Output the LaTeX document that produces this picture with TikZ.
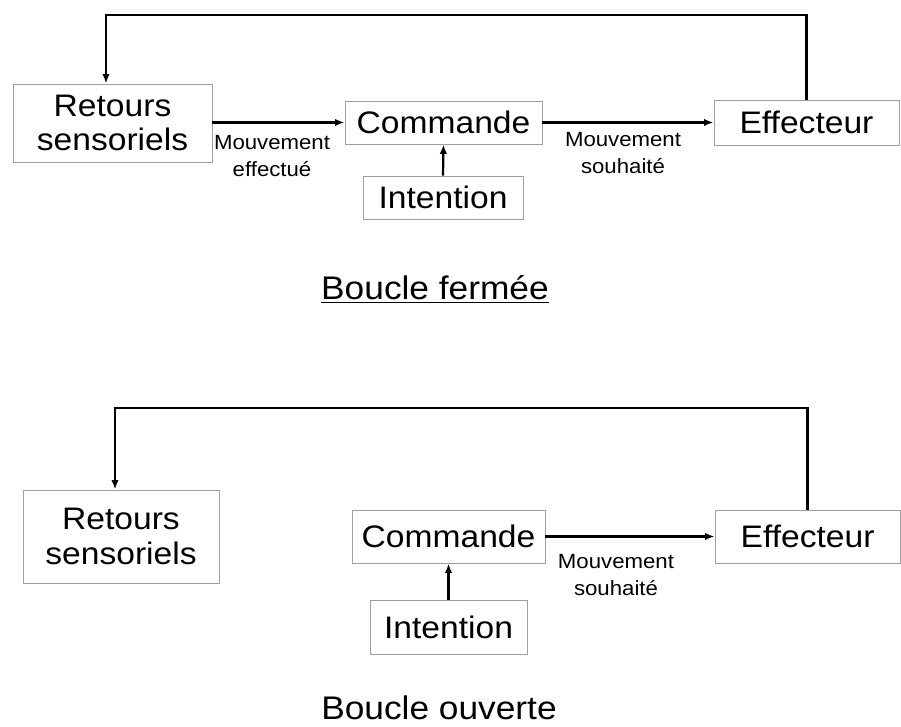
\documentclass[tikz,border=0pt]{standalone}
\usepackage{fontspec}
\setmainfont{Liberation Sans}[FakeStretch=1.08]
\usepackage{tikz}
\usetikzlibrary{shapes, arrows.meta}

\begin{document}
\begin{tikzpicture}[
		bloc/.style={rectangle, draw=gray!75, line width=0.8pt, inner sep=0pt, align=center, font=\fontsize{29.5}{33}\selectfont},
		etiquette/.style={align=center, inner sep=0pt, font=\fontsize{19.5}{25.5}\selectfont},
		titre/.style={anchor=base, inner sep=0pt, font=\fontsize{31}{36}\selectfont},
		fleche/.style={line width=2.1pt, -{Latex[length=9pt, width=7pt]}}]
		\useasboundingbox (0, 0) rectangle (30.033, 24.233);
		% boucle fermee
		\node(ret1) at (3.75, 20.133)[bloc, minimum width=6.63cm, minimum height=2.6cm]{Retours\\sensoriels};
		\node(com1) at (14.783, 20.15)[bloc, minimum width=6.57cm, minimum height=1.43cm]{Commande};
		\node(int1) at (14.767, 17.65)[bloc, minimum width=5.33cm, minimum height=1.43cm]{Intention};
		\node(eff1) at (26.883, 20.15)[bloc, minimum width=6.17cm, minimum height=1.5cm]{Effecteur};
		\node(mvt1) at (9.067, 19.033)[etiquette]{Mouvement\\effectué};
		\node(mvt2) at (20.767, 19.133)[etiquette]{Mouvement\\souhaité};
		\node(tit1) at (14.5, 14.233)[titre]{\underline{Boucle fermée}};
		\coordinate(haut1) at (3.533, 23.733);
		\draw[fleche] (com1.west -| ret1.east)--(com1.west);
		\draw[fleche] (int1.north)--(com1.south);
		\draw[fleche] (com1.east)--(eff1.west);
		\draw[fleche] (eff1.north)|-(haut1)--(haut1 |- ret1.north);
		% boucle ouverte
		\node(ret2) at (4.033, 6.35)[bloc, minimum width=6.53cm, minimum height=3.1cm]{Retours\\sensoriels};
		\node(com2) at (14.95, 6.35)[bloc, minimum width=6.43cm, minimum height=1.77cm]{Commande};
		\node(int2) at (14.95, 3.333)[bloc, minimum width=5.23cm, minimum height=1.8cm]{Intention};
		\node(eff2) at (26.917, 6.35)[bloc, minimum width=6.17cm, minimum height=1.77cm]{Effecteur};
		\node(mvt3) at (20.533, 5.067)[etiquette]{Mouvement\\souhaité};
		\node(tit2) at (14.633, 0.25)[titre]{Boucle ouverte};
		\coordinate(haut2) at (3.833, 10.633);
		\draw[fleche] (int2.north)--(com2.south);
		\draw[fleche] (com2.east)--(eff2.west);
		\draw[fleche] (eff2.north)|-(haut2)--(haut2 |- ret2.north);
\end{tikzpicture}
\end{document}
